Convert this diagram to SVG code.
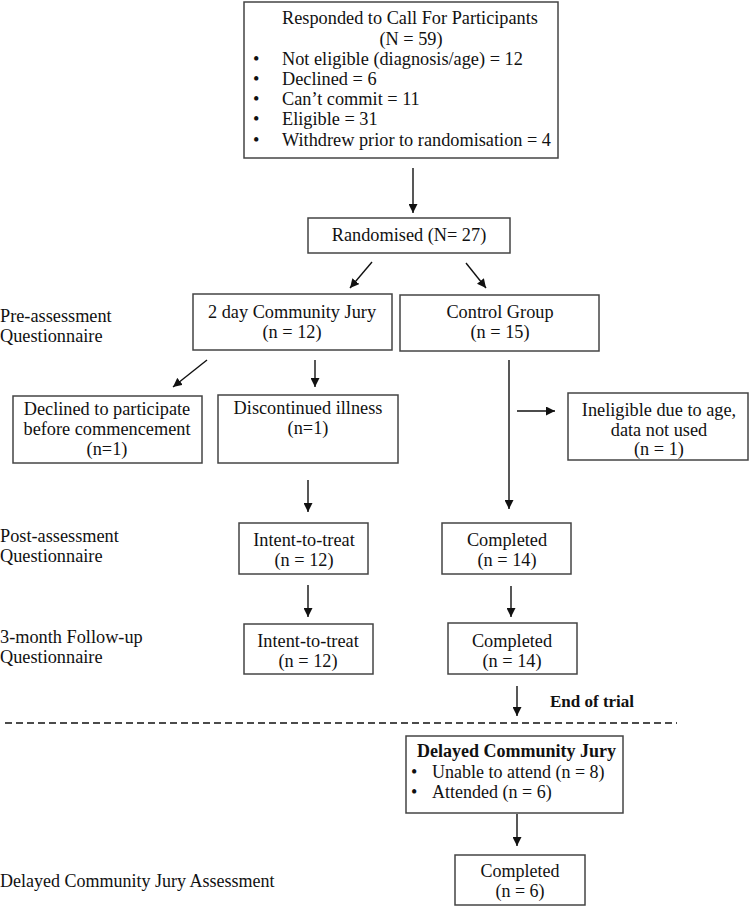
<svg xmlns="http://www.w3.org/2000/svg" width="750" height="907" viewBox="0 0 750 907">
<style>
  text { font-family: "Liberation Serif", "Times New Roman", serif; font-size: 18.3px; fill: #111; }
  .c { text-anchor: middle; }
  .b { font-weight: bold; }
  .box { fill: #fff; stroke: #444; stroke-width: 1.5; }
  .arr { stroke: #111; stroke-width: 1.4; fill: none; marker-end: url(#ah); }
  .dash { stroke: #111; stroke-width: 1.3; stroke-dasharray: 7 4; fill: none; }
</style>
<defs>
  <marker id="ah" markerUnits="userSpaceOnUse" markerWidth="9" markerHeight="9" refX="9" refY="4.5" orient="auto">
    <path d="M0,0 L9,4.5 L0,9 z" fill="#111"/>
  </marker>
</defs>
<rect width="750" height="907" fill="#fff"/>

<g id="labels">
  <text x="0" y="322">Pre-assessment</text>
  <text x="0" y="342">Questionnaire</text>
  <text x="0" y="542">Post-assessment</text>
  <text x="0" y="562">Questionnaire</text>
  <text x="0" y="643">3-month Follow-up</text>
  <text x="0" y="663">Questionnaire</text>
  <text x="0" y="887" style="font-size:18px">Delayed Community Jury Assessment</text>
  <text x="550" y="707" class="b" style="font-size:17px">End of trial</text>
</g>

<g id="responded">
  <rect class="box" x="244" y="2" width="314" height="156"/>
  <text class="c" x="410" y="24">Responded to Call For Participants</text>
  <text class="c" x="411" y="45">(N = 59)</text>
  <text x="253" y="65">•</text><text x="282" y="65">Not eligible (diagnosis/age) = 12</text>
  <text x="253" y="85">•</text><text x="282" y="85">Declined = 6</text>
  <text x="253" y="105">•</text><text x="282" y="105">Can’t commit = 11</text>
  <text x="253" y="125">•</text><text x="282" y="125">Eligible = 31</text>
  <text x="253" y="146">•</text><text x="282" y="146">Withdrew prior to randomisation = 4</text>
</g>

<g id="randomised">
  <rect class="box" x="308" y="218" width="202" height="35"/>
  <text class="c" x="409" y="241">Randomised (N= 27)</text>
</g>

<g id="jury">
  <rect class="box" x="193" y="294" width="199" height="56"/>
  <text class="c" x="292" y="318">2 day Community Jury</text>
  <text class="c" x="292" y="338">(n = 12)</text>
</g>

<g id="control">
  <rect class="box" x="400" y="295" width="199" height="56"/>
  <text class="c" x="500" y="318">Control Group</text>
  <text class="c" x="500" y="338">(n = 15)</text>
</g>

<g id="declined">
  <rect class="box" x="13" y="396" width="189" height="67"/>
  <text class="c" x="107" y="415">Declined to participate</text>
  <text class="c" x="107" y="435">before commencement</text>
  <text class="c" x="107" y="455">(n=1)</text>
</g>

<g id="discontinued">
  <rect class="box" x="218" y="395" width="180" height="68"/>
  <text class="c" x="308" y="414">Discontinued illness</text>
  <text class="c" x="308" y="434">(n=1)</text>
</g>

<g id="ineligible">
  <rect class="box" x="568" y="393" width="180" height="67"/>
  <text class="c" x="659" y="416">Ineligible due to age,</text>
  <text class="c" x="659" y="436">data not used</text>
  <text class="c" x="659" y="455">(n = 1)</text>
</g>

<g id="itt1">
  <rect class="box" x="239" y="523" width="129" height="51"/>
  <text class="c" x="304" y="546">Intent-to-treat</text>
  <text class="c" x="304" y="566">(n = 12)</text>
</g>

<g id="completed1">
  <rect class="box" x="442" y="523" width="129" height="51"/>
  <text class="c" x="507" y="546">Completed</text>
  <text class="c" x="507" y="566">(n = 14)</text>
</g>

<g id="itt2">
  <rect class="box" x="244" y="624" width="129" height="50"/>
  <text class="c" x="308" y="647">Intent-to-treat</text>
  <text class="c" x="308" y="667">(n = 12)</text>
</g>

<g id="completed2">
  <rect class="box" x="448" y="623" width="129" height="51"/>
  <text class="c" x="512" y="647">Completed</text>
  <text class="c" x="512" y="667">(n = 14)</text>
</g>

<g id="delayed">
  <rect class="box" x="406" y="736" width="217" height="77"/>
  <text x="417" y="757" class="b" style="font-size:18px">Delayed Community Jury</text>
  <text x="411" y="778" style="font-size:18px">•</text><text x="432" y="778" style="font-size:18px">Unable to attend (n = 8)</text>
  <text x="411" y="798" style="font-size:18px">•</text><text x="432" y="798" style="font-size:18px">Attended (n = 6)</text>
</g>

<g id="completed3">
  <rect class="box" x="455" y="855" width="130" height="50"/>
  <text class="c" x="520" y="877" style="font-size:18px">Completed</text>
  <text class="c" x="520" y="897" style="font-size:18px">(n = 6)</text>
</g>

<g id="connectors">
  <line class="arr" x1="413" y1="168" x2="413" y2="213"/>
  <line class="arr" x1="372" y1="262" x2="350" y2="288"/>
  <line class="arr" x1="466" y1="263" x2="486" y2="288"/>
  <line class="arr" x1="207" y1="360" x2="173" y2="387"/>
  <line class="arr" x1="315" y1="360" x2="315" y2="387"/>
  <line class="arr" x1="509" y1="360" x2="509" y2="509"/>
  <line class="arr" x1="517" y1="411" x2="555" y2="411"/>
  <line class="arr" x1="308" y1="480" x2="308" y2="512"/>
  <line class="arr" x1="308" y1="585" x2="308" y2="617"/>
  <line class="arr" x1="511" y1="586" x2="511" y2="617"/>
  <line class="arr" x1="517" y1="686" x2="517" y2="716"/>
  <line class="arr" x1="517" y1="814" x2="517" y2="846"/>
  <line class="dash" x1="5" y1="723" x2="677" y2="723"/>
</g>
</svg>
